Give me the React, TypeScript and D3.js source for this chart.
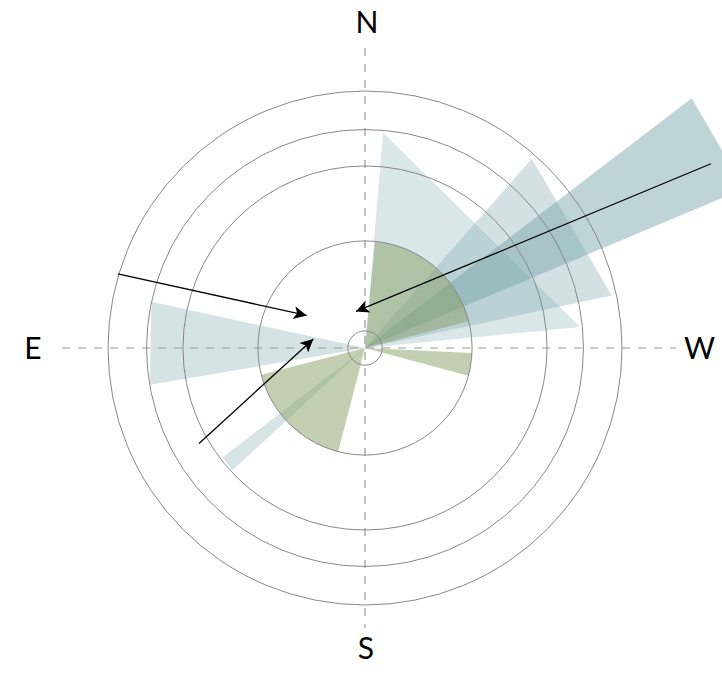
import React from "react";
import * as d3 from "d3";

// Compass bearings (N=0, E=90, S=180, W=270); E is drawn on the left.
const compassLabels = ["N", "E", "S", "W"];
const gridValues = [0.8, 5, 8.5, 10.2, 12];

// Green sectors (arcs)
const greenStart = [284.5, 255, 104.4];
const greenEnd = [354.6, 267.3, 165.5];
const greenValue = [5, 5, 5];

// Blue sectors (triangles)
const blueStart = [275.6, 282, 292.8, 77.8, 127.5];
const blueEnd = [355.2, 318.6, 307.4, 99.7, 132.7];
const blueValue = [10.09, 11.78, 19.2, 10.2, 8.4];
const blueAlpha = [0.27, 0.33, 0.48, 0.31, 0.3];

// Arrows: start and end as (bearing, value)
const arrowStartBearing = [73.3, 119.9, 298.04];
const arrowStartValue = [12.05, 8.94, 18.3];
const arrowEndBearing = [60.8, 80.1, 13.8];
const arrowEndValue = [3.12, 2.45, 1.76];

const W = 722;
const H = 691;
const cx = 365;
const cy = 348;

export default function App() {
  const r = d3.scaleLinear().domain([0, 12]).range([0, 257]);
  const toScreen = (b: number) => ((360 - b) % 360) * Math.PI / 180;
  const pt = (b: number, v: number): [number, number] => {
    const a = toScreen(b);
    return [cx + r(v) * Math.sin(a), cy - r(v) * Math.cos(a)];
  };
  const arc = d3.arc<any>();
  const line = d3.line();

  const greens = greenStart.map((s, i) => {
    const a1 = toScreen(s);
    const a2 = toScreen(greenEnd[i]);
    return arc({
      innerRadius: 0,
      outerRadius: r(greenValue[i]),
      startAngle: Math.min(a1, a2),
      endAngle: Math.max(a1, a2),
    }) as string;
  });

  const blues = blueStart.map((s, i) => {
    const p = [[cx, cy] as [number, number], pt(s, blueValue[i]), pt(blueEnd[i], blueValue[i])];
    return line(p) + "Z";
  });

  const labelPos: Record<string, [number, number]> = {
    N: [367, 33],
    E: [33, 359],
    S: [366, 659],
    W: [699.5, 359],
  };

  return (
    <svg
      width={W}
      height={H}
      style={{ position: "absolute", left: 0, top: 0, background: "#fff" }}
    >
      <defs>
        <marker
          id="ah"
          viewBox="0 0 10 10"
          refX={10}
          refY={5}
          markerWidth={19}
          markerHeight={13}
          markerUnits="userSpaceOnUse"
          orient="auto"
        >
          <path d="M0,0 L10,5 L0,10 L2.5,5 Z" fill="#000" />
        </marker>
      </defs>
      {blues.map((d, i) => (
        <path key={"b" + i} d={d} fill="#78a5ac" fillOpacity={blueAlpha[i]} />
      ))}
      {greens.map((d, i) => (
        <path
          key={"g" + i}
          d={d}
          transform={`translate(${cx},${cy})`}
          fill="#87a064"
          fillOpacity={0.5}
        />
      ))}
      <line x1={cx} x2={cx} y1={48} y2={628} stroke="#999" strokeWidth={1.2} strokeDasharray="8,8" />
      <line x1={62} x2={676} y1={cy} y2={cy} stroke="#999" strokeWidth={1.2} strokeDasharray="8,8" />
      {gridValues.map((v, i) => (
        <circle key={"c" + i} cx={cx} cy={cy} r={r(v)} fill="none" stroke="#888" strokeWidth={1} />
      ))}
      {arrowStartBearing.map((b, i) => {
        const [x1, y1] = pt(b, arrowStartValue[i]);
        const [x2, y2] = pt(arrowEndBearing[i], arrowEndValue[i]);
        return (
          <line
            key={"a" + i}
            x1={x1}
            y1={y1}
            x2={x2}
            y2={y2}
            stroke="#000"
            strokeWidth={1.3}
            markerEnd="url(#ah)"
          />
        );
      })}
      {compassLabels.map((l) => (
        <text
          key={l}
          x={labelPos[l][0]}
          y={labelPos[l][1]}
          textAnchor="middle"
          fontFamily="Lato, 'DejaVu Sans', sans-serif"
          fontSize={30}
          fill="#000"
        >
          {l}
        </text>
      ))}
    </svg>
  );
}
